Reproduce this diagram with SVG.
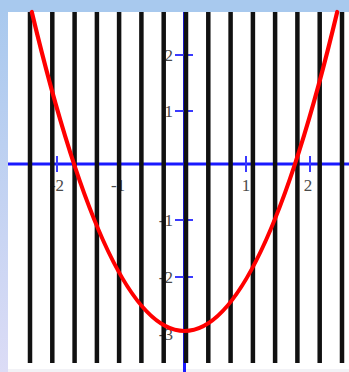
<svg xmlns="http://www.w3.org/2000/svg" width="349" height="372" viewBox="0 0 349 372">
  <defs>
    <linearGradient id="leftband" x1="0" y1="0" x2="0" y2="1">
      <stop offset="0" stop-color="#a9c9ee"/>
      <stop offset="1" stop-color="#dcdcf6"/>
    </linearGradient>
    <style>
      .axis { stroke: #1a1aff; stroke-width: 3; fill: none; }
      .tick { stroke: #3a3aff; stroke-width: 2; fill: none; }
      .grid { stroke: #111; stroke-width: 4.5; fill: none; }
      .lbl { font-family: "Liberation Serif", "DejaVu Serif", serif; font-size: 17px; fill: #4a4a4a; }
      .curve { stroke: #ff0000; stroke-width: 4.2; fill: none; stroke-linecap: round; }
    </style>
  </defs>
  <g id="background">
    <rect x="0" y="0" width="349" height="372" fill="#ffffff"/>
    <rect x="0" y="0" width="349" height="12" fill="#a8c9ee"/>
    <rect x="0" y="12" width="8" height="360" fill="url(#leftband)"/>
    <rect x="8" y="369" width="341" height="3" fill="#f2f2f6"/>
  </g>
  <g id="axes">
    <line class="axis" x1="8" y1="164" x2="349" y2="164"/>
    <line class="axis" x1="184.5" y1="12" x2="184.5" y2="372"/>
    <g id="ticks">
      <line class="tick" x1="57" y1="156" x2="57" y2="172"/>
      <line class="tick" x1="120" y1="156" x2="120" y2="172"/>
      <line class="tick" x1="246" y1="156" x2="246" y2="172"/>
      <line class="tick" x1="310" y1="156" x2="310" y2="172"/>
      <line class="tick" x1="175" y1="55" x2="193" y2="55"/>
      <line class="tick" x1="175" y1="111" x2="193" y2="111"/>
      <line class="tick" x1="175" y1="220" x2="193" y2="220"/>
      <line class="tick" x1="175" y1="277" x2="193" y2="277"/>
    </g>
  </g>
  <g id="labels">
    <text class="lbl" x="57" y="191" text-anchor="middle">-2</text>
    <text class="lbl" x="118" y="191" text-anchor="middle">-1</text>
    <text class="lbl" x="246" y="191" text-anchor="middle">1</text>
    <text class="lbl" x="308" y="191" text-anchor="middle">2</text>
    <text class="lbl" x="173" y="61" text-anchor="end">2</text>
    <text class="lbl" x="173" y="117" text-anchor="end">1</text>
    <text class="lbl" x="173" y="226" text-anchor="end">-1</text>
    <text class="lbl" x="173" y="283" text-anchor="end">-2</text>
    <text class="lbl" x="173" y="340" text-anchor="end">-3</text>
  </g>
  <g id="grid">
    <line class="grid" x1="30" y1="12" x2="30" y2="363"/>
    <line class="grid" x1="52.3" y1="12" x2="52.3" y2="363"/>
    <line class="grid" x1="74.6" y1="12" x2="74.6" y2="363"/>
    <line class="grid" x1="96.9" y1="12" x2="96.9" y2="363"/>
    <line class="grid" x1="119.1" y1="12" x2="119.1" y2="363"/>
    <line class="grid" x1="141.4" y1="12" x2="141.4" y2="363"/>
    <line class="grid" x1="163.7" y1="12" x2="163.7" y2="363"/>
    <line class="grid" x1="186" y1="12" x2="186" y2="363"/>
    <line class="grid" x1="208.3" y1="12" x2="208.3" y2="363"/>
    <line class="grid" x1="230.6" y1="12" x2="230.6" y2="363"/>
    <line class="grid" x1="252.9" y1="12" x2="252.9" y2="363"/>
    <line class="grid" x1="275.1" y1="12" x2="275.1" y2="363"/>
    <line class="grid" x1="297.4" y1="12" x2="297.4" y2="363"/>
    <line class="grid" x1="319.7" y1="12" x2="319.7" y2="363"/>
    <line class="grid" x1="342" y1="12" x2="342" y2="363"/>
  </g>
  <g id="parabola">
    <path class="curve" d="M31.8,12 Q184.5,650 337.2,12"/>
  </g>
</svg>
